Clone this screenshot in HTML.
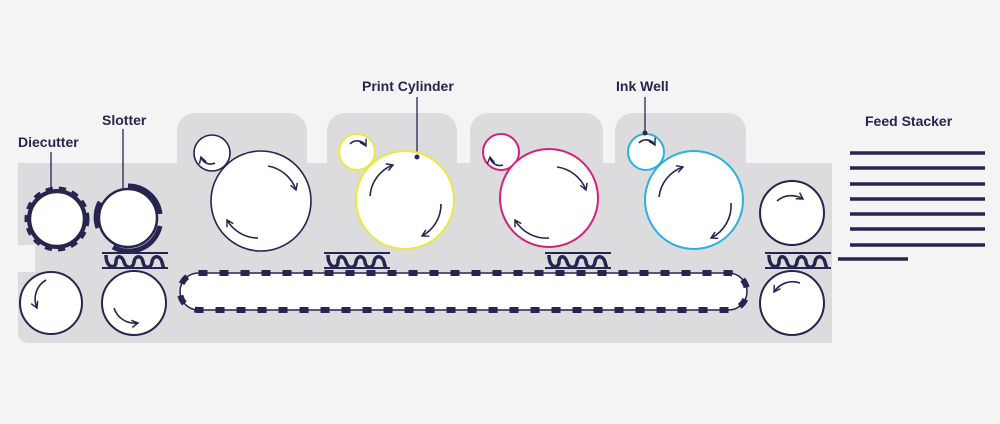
<!DOCTYPE html>
<html><head><meta charset="utf-8"><style>
html,body{margin:0;padding:0;background:#f4f4f5;}
svg{display:block}
text{font-family:"Liberation Sans",sans-serif;font-weight:bold;font-size:14px;fill:#25254f}
</style></head><body>
<svg width="1000" height="424" viewBox="0 0 1000 424" xmlns="http://www.w3.org/2000/svg">
<defs>
<marker id="ah" viewBox="0 0 10 10" refX="8" refY="5" markerWidth="9" markerHeight="9" orient="auto-start-reverse" markerUnits="userSpaceOnUse">
<path d="M1,1 L8,5 L1,9" fill="none" stroke="#25254f" stroke-width="1.6"/>
</marker>
<g id="corr">
<line x1="0" y1="0" x2="66" y2="0" stroke="#25254f" stroke-width="2"/>
<line x1="0" y1="15" x2="66" y2="15" stroke="#25254f" stroke-width="2"/>
<path d="M4,2 C4,16 14,16 14,9 C14,2 20,2 22,9 C24,16 31,16 32,9 C33,2 40,2 41,9 C42,16 49,16 50,9 C51,2 58,2 60,9 C61,14 62,15 62,15" fill="none" stroke="#25254f" stroke-width="3.5"/>
</g>
</defs>
<path d="M18,163 H832 V343 H30 Q18,343 18,331 V272 H35 V245 H18 Z" fill="#dcdcde"/>
<rect x="177" y="113" width="130" height="70" rx="18" fill="#dcdcde"/>
<rect x="327" y="113" width="130" height="70" rx="18" fill="#dcdcde"/>
<rect x="470" y="113" width="133" height="70" rx="18" fill="#dcdcde"/>
<rect x="615" y="113" width="131" height="70" rx="18" fill="#dcdcde"/>

<text x="18" y="147">Diecutter</text>
<text x="102" y="125">Slotter</text>
<text x="362" y="91">Print Cylinder</text>
<text x="616" y="91">Ink Well</text>
<text x="865" y="126">Feed Stacker</text>
<line x1="51" y1="152" x2="51" y2="188" stroke="#25254f" stroke-width="1.3"/>
<line x1="123" y1="129" x2="123" y2="188" stroke="#25254f" stroke-width="1.3"/>
<line x1="417" y1="97" x2="417" y2="157" stroke="#25254f" stroke-width="1.3"/>
<line x1="645" y1="97" x2="645" y2="132" stroke="#25254f" stroke-width="1.3"/>

<circle cx="57" cy="219" r="30" fill="#25254f" stroke="#25254f" stroke-width="5" stroke-dasharray="7 6"/>
<circle cx="57" cy="219" r="27" fill="#fff" stroke="#25254f" stroke-width="2.5"/>
<circle cx="128" cy="218" r="29" fill="#fff" stroke="#25254f" stroke-width="2.5"/>
<path d="M128,186 A32,32 0 0 1 160,214" fill="none" stroke="#25254f" stroke-width="5"/>
<path d="M160,226 A32,32 0 0 1 113,247" fill="none" stroke="#25254f" stroke-width="5"/>
<path d="M100,202 A32,32 0 0 0 98,228" fill="none" stroke="#25254f" stroke-width="5"/>
<use href="#corr" x="102" y="253"/>

<circle cx="51" cy="303" r="31" fill="#fff" stroke="#25254f" stroke-width="2"/>
<path d="M46,280 A22,22 0 0 0 37,308" fill="none" stroke="#25254f" stroke-width="1.6" marker-end="url(#ah)"/>
<circle cx="134" cy="303" r="32" fill="#fff" stroke="#25254f" stroke-width="2"/>
<path d="M114,308 A22,22 0 0 0 138,323" fill="none" stroke="#25254f" stroke-width="1.6" marker-end="url(#ah)"/>

<circle cx="212" cy="153" r="18" fill="#fff" stroke="#25254f" stroke-width="1.6"/>
<path d="M215,163 A10,10 0 0 1 201,157" fill="none" stroke="#25254f" stroke-width="1.6" marker-end="url(#ah)"/>
<circle cx="261" cy="201" r="50" fill="#fff" stroke="#25254f" stroke-width="1.6"/>
<path d="M268,166 A36,36 0 0 1 296,190" fill="none" stroke="#25254f" stroke-width="1.6" marker-end="url(#ah)"/>
<path d="M258,238 A36,36 0 0 1 227,220" fill="none" stroke="#25254f" stroke-width="1.6" marker-end="url(#ah)"/>

<circle cx="357" cy="152" r="18" fill="#fff" stroke="#ece740" stroke-width="2"/>
<path d="M350,144 A10,10 0 0 1 366,146" fill="none" stroke="#25254f" stroke-width="1.6" marker-end="url(#ah)"/>
<circle cx="405" cy="200" r="49" fill="#fff" stroke="#ece740" stroke-width="2"/>
<path d="M370,196 A36,36 0 0 1 393,165" fill="none" stroke="#25254f" stroke-width="1.6" marker-end="url(#ah)"/>
<path d="M441,204 A36,36 0 0 1 422,236" fill="none" stroke="#25254f" stroke-width="1.6" marker-end="url(#ah)"/>
<circle cx="417" cy="157" r="2.5" fill="#25254f"/>
<use href="#corr" x="324" y="253"/>

<circle cx="501" cy="152" r="18" fill="#fff" stroke="#d4207f" stroke-width="2"/>
<path d="M503,165 A10,10 0 0 1 490,157" fill="none" stroke="#25254f" stroke-width="1.6" marker-end="url(#ah)"/>
<circle cx="549" cy="198" r="49" fill="#fff" stroke="#d4207f" stroke-width="2"/>
<path d="M557,167 A36,36 0 0 1 586,190" fill="none" stroke="#25254f" stroke-width="1.6" marker-end="url(#ah)"/>
<path d="M549,238 A36,36 0 0 1 515,220" fill="none" stroke="#25254f" stroke-width="1.6" marker-end="url(#ah)"/>
<use href="#corr" x="545" y="253"/>

<circle cx="646" cy="152" r="18" fill="#fff" stroke="#2cb0dc" stroke-width="2"/>
<path d="M639,143 A10,10 0 0 1 655,145" fill="none" stroke="#25254f" stroke-width="1.6" marker-end="url(#ah)"/>
<circle cx="645" cy="133" r="2.5" fill="#25254f"/>
<circle cx="694" cy="200" r="49" fill="#fff" stroke="#2cb0dc" stroke-width="2"/>
<path d="M659,197 A36,36 0 0 1 683,167" fill="none" stroke="#25254f" stroke-width="1.6" marker-end="url(#ah)"/>
<path d="M731,203 A36,36 0 0 1 711,238" fill="none" stroke="#25254f" stroke-width="1.6" marker-end="url(#ah)"/>

<circle cx="792" cy="213" r="32" fill="#fff" stroke="#25254f" stroke-width="2"/>
<path d="M777,201 A22,22 0 0 1 803,199" fill="none" stroke="#25254f" stroke-width="1.6" marker-end="url(#ah)"/>
<circle cx="792" cy="303" r="32" fill="#fff" stroke="#25254f" stroke-width="2"/>
<path d="M800,283 A22,22 0 0 0 774,292" fill="none" stroke="#25254f" stroke-width="1.6" marker-end="url(#ah)"/>
<use href="#corr" x="765" y="253"/>

<rect x="180" y="273" width="567" height="37" rx="18.5" fill="#fff" stroke="#25254f" stroke-width="1.5"/>
<rect x="180" y="273" width="567" height="37" rx="18.5" fill="none" stroke="#25254f" stroke-width="6" stroke-dasharray="9 12"/>

<g stroke="#25254f" stroke-width="3.5">
<line x1="850" y1="153" x2="985" y2="153"/>
<line x1="850" y1="168" x2="985" y2="168"/>
<line x1="850" y1="184" x2="985" y2="184"/>
<line x1="850" y1="199" x2="985" y2="199"/>
<line x1="850" y1="214" x2="985" y2="214"/>
<line x1="850" y1="229" x2="985" y2="229"/>
<line x1="850" y1="245" x2="985" y2="245"/>
<line x1="838" y1="259" x2="908" y2="259"/>
</g>
</svg>
</body></html>
